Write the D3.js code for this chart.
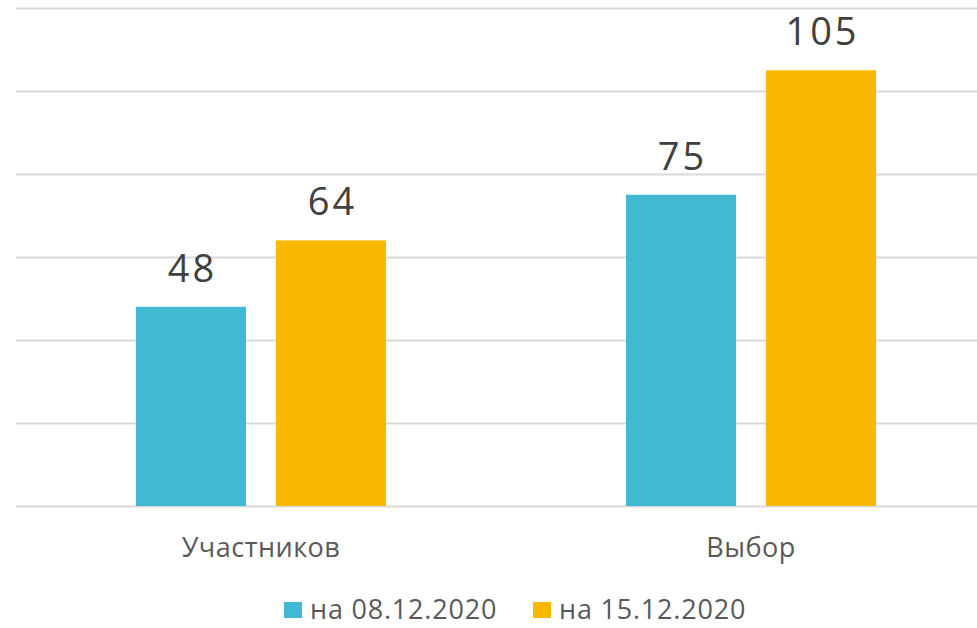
<!DOCTYPE html>
<html>
<head>
<meta charset="utf-8">
<script src="https://cdn.jsdelivr.net/npm/d3@7"></script>
<style>
  body { margin: 0; background: #fff; }
  svg { font-family: "Open Sans", "Noto Sans", sans-serif; }
</style>
</head>
<body>
<svg id="chart" width="977" height="628"></svg>
<script>
const categories = ["Участников", "Выбор"];
const seriesNames = ["на 08.12.2020", "на 15.12.2020"];
const seriesColors = ["#41b9d3", "#f9b800"];
const values08 = [48, 75];
const values15 = [64, 105];
const gridTicks = [0, 20, 40, 60, 80, 100, 120];

const svg = d3.select("#chart");
const plotLeft = 16, plotRight = 996, plotTop = 8, plotBottom = 506;

let x = d3.scaleBand().domain(categories).range([plotLeft, plotRight]);
let y = d3.scaleLinear().domain([0, 120]).range([plotBottom, plotTop]);
let xs = d3.scaleBand().domain([0, 1]).range([0, x.bandwidth()])
  .paddingInner(30 / 140).paddingOuter(120 / 140);

// gridlines
svg.append("g").selectAll("line")
  .data(gridTicks)
  .join("line")
    .attr("x1", plotLeft).attr("x2", 977)
    .attr("y1", d => y(d) + 0.5).attr("y2", d => y(d) + 0.5)
    .attr("stroke", "#d9d9d9")
    .attr("stroke-width", 2);

let rows = [];
categories.forEach((c, i) => {
  rows.push({cat: c, s: 0, v: values08[i]});
  rows.push({cat: c, s: 1, v: values15[i]});
});

svg.append("g").selectAll("rect")
  .data(rows)
  .join("rect")
    .attr("x", d => x(d.cat) + xs(d.s))
    .attr("width", xs.bandwidth())
    .attr("y", d => y(d.v))
    .attr("height", d => y(0) - y(d.v))
    .attr("fill", d => seriesColors[d.s]);

// data labels
svg.append("g").selectAll("text")
  .data(rows)
  .join("text")
    .attr("x", d => x(d.cat) + xs(d.s) + xs.bandwidth() / 2 + 1.5)
    .attr("y", d => y(d.v) - 25)
    .attr("text-anchor", "middle")
    .attr("font-size", 38)
    .attr("letter-spacing", 3)
    .attr("fill", "#404040")
    .text(d => d.v);

// category labels
svg.append("g").selectAll("text")
  .data(categories)
  .join("text")
    .attr("x", d => x(d) + x.bandwidth() / 2)
    .attr("y", 557)
    .attr("text-anchor", "middle")
    .attr("font-size", 27)
    .attr("letter-spacing", 0.5)
    .attr("fill", "#595959")
    .text(d => d);

// legend
const legendX = [284, 533];
let lg = svg.append("g").selectAll("g")
  .data(seriesNames)
  .join("g")
    .attr("transform", (d, i) => `translate(${legendX[i]},0)`);
lg.append("rect")
  .attr("x", 0).attr("y", 602)
  .attr("width", 18).attr("height", 16)
  .attr("fill", (d, i) => seriesColors[i]);
lg.append("text")
  .attr("x", 26).attr("y", 619)
  .attr("font-size", 27)
  .attr("letter-spacing", 0.8)
  .attr("fill", "#595959")
  .text(d => d);
</script>
</body>
</html>
